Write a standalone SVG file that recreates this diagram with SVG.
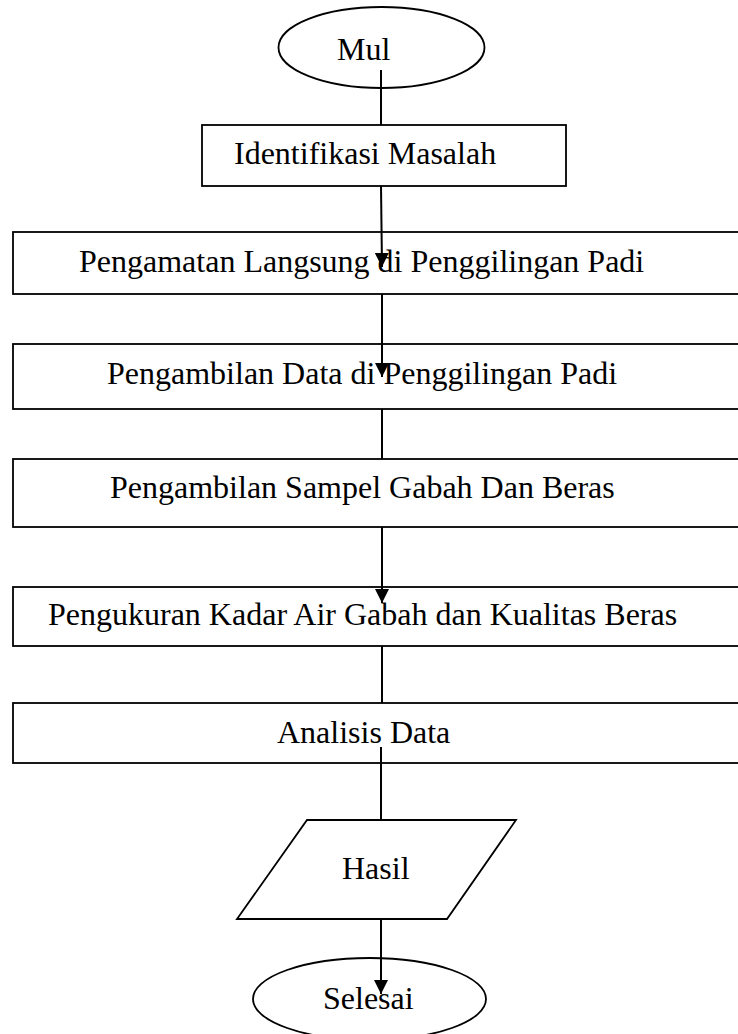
<svg xmlns="http://www.w3.org/2000/svg" width="738" height="1034" viewBox="0 0 738 1034">
<style>
.shape{fill:#fff;stroke:#000;stroke-width:1.8}
.lbl{font-family:"Liberation Serif","Times New Roman",serif;font-size:32px;fill:#000}
.conn{stroke:#000;stroke-width:2;fill:none}
</style>
<defs>
<marker id="arr" markerUnits="userSpaceOnUse" markerWidth="14" markerHeight="15" refX="14" refY="7" orient="auto">
<path d="M0,0 L14,7 L0,14 z" fill="#000"/>
</marker>
</defs>
<rect width="738" height="1034" fill="#fff"/>
<g id="mulai">
<ellipse class="shape" cx="381.5" cy="47.5" rx="103" ry="40.5"/>
<text class="lbl" x="337" y="60">Mul</text>
</g>
<g id="identifikasi">
<rect class="shape" x="202" y="125" width="364" height="61"/>
<text class="lbl" x="234" y="164">Identifikasi Masalah</text>
</g>
<g id="pengamatan">
<rect class="shape" x="13" y="232" width="750" height="62"/>
<text class="lbl" x="79" y="272">Pengamatan Langsung di Penggilingan Padi</text>
</g>
<g id="pengambilan-data">
<rect class="shape" x="13" y="344" width="750" height="65"/>
<text class="lbl" x="107" y="384">Pengambilan Data di Penggilingan Padi</text>
</g>
<g id="pengambilan-sampel">
<rect class="shape" x="13" y="459" width="750" height="68"/>
<text class="lbl" x="110" y="498">Pengambilan Sampel Gabah Dan Beras</text>
</g>
<g id="pengukuran">
<rect class="shape" x="13" y="587" width="750" height="59"/>
<text class="lbl" x="48" y="625">Pengukuran Kadar Air Gabah dan Kualitas Beras</text>
</g>
<g id="analisis">
<rect class="shape" x="13" y="703" width="750" height="60"/>
<text class="lbl" x="277" y="743">Analisis Data</text>
</g>
<g id="hasil">
<polygon class="shape" points="307,820 516,820 447,919 237,919"/>
<text class="lbl" x="342" y="879">Hasil</text>
</g>
<g id="selesai">
<ellipse class="shape" cx="369.5" cy="999" rx="116.5" ry="41"/>
<text class="lbl" x="323" y="1009">Selesai</text>
</g>
<g id="connectors">
<line class="conn" x1="381" y1="70" x2="381" y2="125"/>
<line class="conn" x1="381" y1="186" x2="382" y2="267" marker-end="url(#arr)"/>
<line class="conn" x1="382" y1="294" x2="382" y2="377" marker-end="url(#arr)"/>
<line class="conn" x1="382" y1="409" x2="382" y2="459"/>
<line class="conn" x1="382" y1="527" x2="382" y2="603" marker-end="url(#arr)"/>
<line class="conn" x1="382" y1="646" x2="382" y2="703"/>
<line class="conn" x1="381" y1="747" x2="381" y2="820"/>
<line class="conn" x1="381" y1="919" x2="381" y2="994" marker-end="url(#arr)"/>
</g>
</svg>
